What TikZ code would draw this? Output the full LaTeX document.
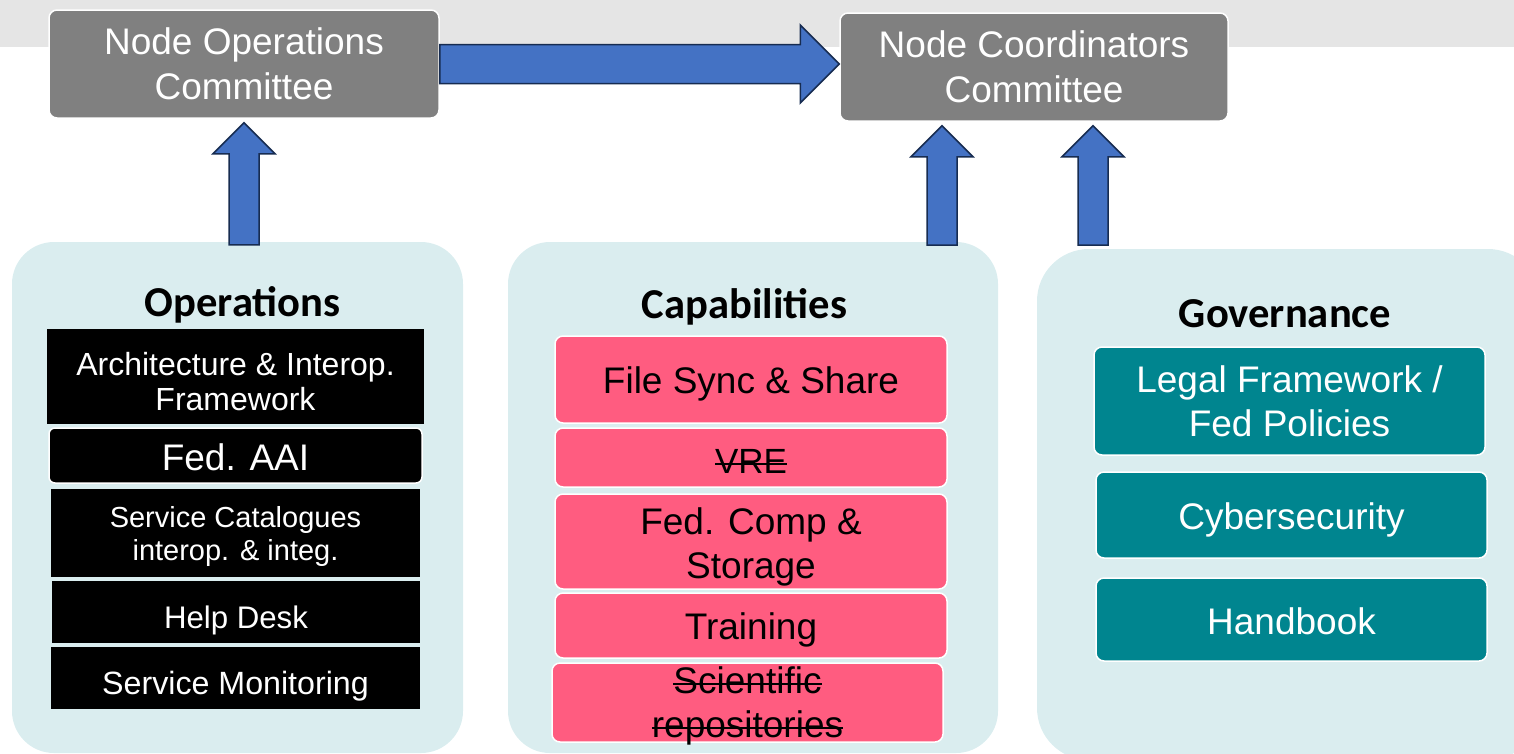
\documentclass[tikz,border=0pt]{standalone}
\usepackage{fontspec}
\setmainfont{Liberation Sans}
\newfontfamily\titlefont{Carlito}
\usetikzlibrary{calc}

\definecolor{bandgray}{HTML}{E5E5E5}
\definecolor{boxgray}{HTML}{808080}
\definecolor{panelblue}{HTML}{DAEDEF}
\definecolor{capred}{HTML}{FF5C80}
\definecolor{govteal}{HTML}{00858F}
\definecolor{arrowblue}{HTML}{4472C4}
\definecolor{arrowedge}{HTML}{172C51}

% struck-out text
\newcommand{\strikeout}[1]{\leavevmode\setbox0\hbox{#1}\rlap{\rule[0.24em]{\wd0}{2pt}}\box0}
% taller first line, pushes text down
\newcommand{\dropline}[1]{\rule{0pt}{#1}}

\tikzset{
  committee/.style={fill=boxgray, draw=white, line width=1.5pt, rounded corners=8pt,
    text=white, align=center, inner sep=0pt, font=\fontsize{37}{45}\selectfont},
  panel/.style={fill=panelblue, rounded corners=42pt, inner sep=0pt},
  paneltitle/.style={anchor=base, font=\titlefont\bfseries\fontsize{42.6}{50}\selectfont},
  opsbox/.style={fill=black, text=white, align=center, inner sep=0pt},
  capbox/.style={fill=capred, draw=white, line width=1.5pt, rounded corners=8pt,
    align=center, inner sep=0pt, font=\fontsize{37}{44}\selectfont},
  govbox/.style={fill=govteal, draw=white, line width=1.5pt, rounded corners=8pt,
    text=white, align=center, inner sep=0pt, font=\fontsize{37}{44}\selectfont},
  textdrop/.style={execute at begin node={\rule{0pt}{#1}}},
  blockarrow/.style={fill=arrowblue, draw=arrowedge, line width=1.5pt, line join=miter},
}

% block arrows: #1 foot, #2 target
\newcommand{\upblock}[2]{%
  \draw[blockarrow] let \p1=#1, \p2=#2 in
    (\x1-15pt,\y1-3pt) -- (\x1-15pt,\y2-35pt) -- (\x1-31pt,\y2-35pt) -- (\x1,\y2-4pt)
    -- (\x1+31pt,\y2-35pt) -- (\x1+15pt,\y2-35pt) -- (\x1+15pt,\y1-3pt) -- cycle;}
\newcommand{\rightblock}[2]{%
  \draw[blockarrow] let \p1=#1, \p2=#2 in
    (\x1,\y1+19.5pt) -- (\x2-39pt,\y1+19.5pt) -- (\x2-39pt,\y1+39pt) -- (\x2,\y1)
    -- (\x2-39pt,\y1-39pt) -- (\x2-39pt,\y1-19.5pt) -- (\x1,\y1-19.5pt) -- cycle;}

\begin{document}
\begin{tikzpicture}[x=1pt, y=-1pt]
  \useasboundingbox (0,0) rectangle (1514,753);
  \clip (0,0) rectangle (1514,753);

  \fill[bandgray] (0,0) rectangle (1514,47);

  % committees
  \node[committee, minimum width=390pt, minimum height=108pt] (noc) at (244,64)
    {Node Operations\\Committee};
  \node[committee, minimum width=388pt, minimum height=108pt] (ncc) at (1034,67)
    {Node Coordinators\\Committee};

  % panels
  \node[panel, minimum width=451pt, minimum height=511pt] (ops) at (237.5,497.5) {};
  \node[panel, minimum width=490pt, minimum height=511pt] (caps) at (753,497.5) {};
  \node[panel, rounded corners=52pt, minimum width=503pt, minimum height=511pt] (gov) at (1288.5,504.5) {};

  \node[paneltitle] (opstitle) at (242.5,316) {Operations};
  \node[paneltitle] (capstitle) at (744.5,318) {Capabilities};
  \node[paneltitle] (govtitle) at (1285,327) {Governance};

  % operations
  \node[opsbox, minimum width=377pt, minimum height=95pt, font=\fontsize{32}{35}\selectfont] (arch) at (235.5,376.5)
    {\dropline{33.4pt}Architecture \& Interop.\\Framework};
  \node[opsbox, draw=white, line width=1.5pt, rounded corners=6pt, minimum width=373pt, minimum height=55pt,
    font=\fontsize{37}{44}\selectfont, textdrop=30.5pt] (aai) at (235.5,455.5) {Fed. AAI};
  \node[opsbox, minimum width=369pt, minimum height=88pt, font=\fontsize{29}{33}\selectfont] (catalog) at (235.5,533)
    {\dropline{27.2pt}Service Catalogues\\interop. \& integ.};
  \node[opsbox, minimum width=368pt, minimum height=62pt, font=\fontsize{31.2}{35}\selectfont, textdrop=38.5pt] (helpdesk) at (236,612)
    {Help Desk};
  \node[opsbox, minimum width=369pt, minimum height=62pt, font=\fontsize{32.2}{35}\selectfont, textdrop=39pt] (monitor) at (235.5,678)
    {Service Monitoring};

  % capabilities
  \node[capbox, minimum width=392pt, minimum height=87pt, textdrop=35.6pt] (sync) at (751,379.5) {File Sync \& Share};
  \node[capbox, minimum width=392pt, minimum height=59pt, font=\fontsize{35}{44}\selectfont, textdrop=32pt] (vre) at (751,457.5) {\strikeout{VRE}};
  \node[capbox, minimum width=392pt, minimum height=95pt] (comp) at (751,541.5) {\dropline{37pt}Fed. Comp \&\\Storage};
  \node[capbox, minimum width=392pt, minimum height=65pt, textdrop=35.6pt] (training) at (751,625.5) {Training};
  \node[capbox, minimum width=391pt, minimum height=79pt] (repos) at (747.5,702.5)
    {\strikeout{Scientific}\\\smash{\strikeout{repositories}}};

  % governance
  \node[govbox, minimum width=391pt, minimum height=108pt] (legal) at (1289.5,401)
    {Legal Framework /\\Fed Policies};
  \node[govbox, minimum width=391pt, minimum height=86pt, textdrop=36.5pt] (cyber) at (1291.5,515) {Cybersecurity};
  \node[govbox, minimum width=391pt, minimum height=83pt, textdrop=30.5pt] (handbook) at (1291.5,619.5) {Handbook};

  % arrows
  \coordinate (capsfoot) at (942,242);
  \coordinate (govfoot) at (1093,242);
  \rightblock{(noc.east)}{(ncc.west)}
  \upblock{(ops.north -| noc.south)}{(noc.south)}
  \upblock{(capsfoot)}{(ncc.south)}
  \upblock{(govfoot)}{(ncc.south)}

\end{tikzpicture}
\end{document}
